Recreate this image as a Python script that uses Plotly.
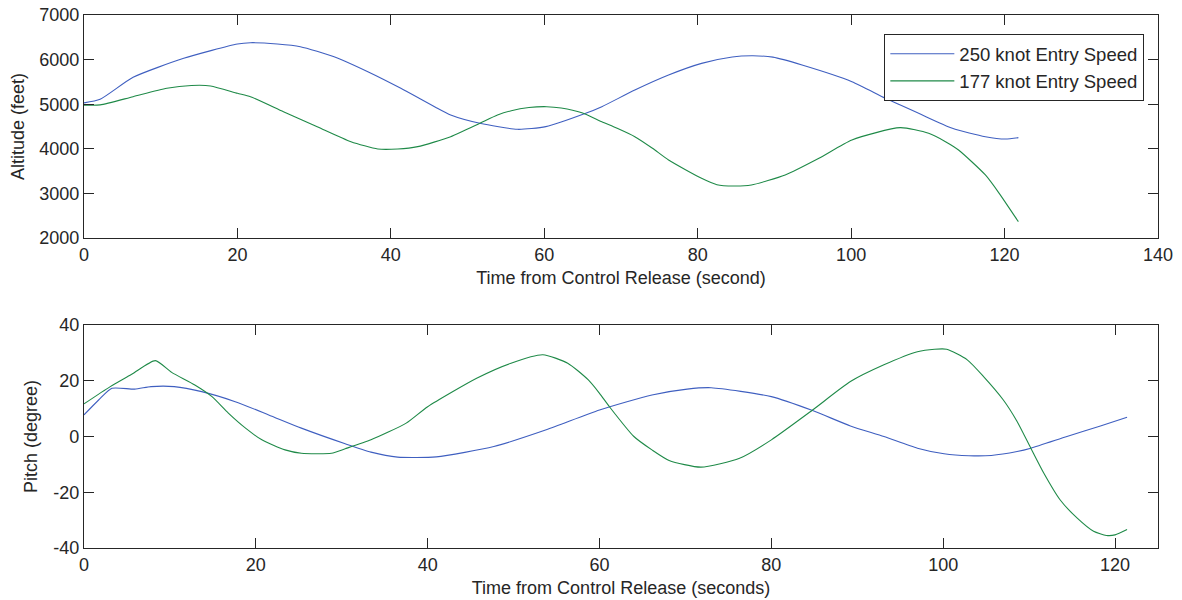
import plotly.graph_objects as go

# ---- Altitude (top panel) ----
alt_t_250 = [0, 2.1, 6.4, 13, 20, 21.7, 25.2, 28.2, 32.6, 37, 41.3, 45.7, 47.8, 51.6, 56.5, 60.2,
             65.4, 67.5, 71.8, 76.2, 80.5, 84.5, 87.2, 89.8, 93.6, 100.1, 104.5, 108.8, 113.2, 117.5, 120.1, 121.8]
alt_v_250 = [5030, 5110, 5603, 6029, 6350, 6379, 6350, 6289, 6065, 5729, 5357, 4944, 4758, 4572, 4437, 4497,
             4796, 4944, 5318, 5655, 5916, 6060, 6085, 6055, 5879, 5505, 5132, 4796, 4460, 4272, 4220, 4250]

alt_t_177 = [0, 2.1, 6.4, 10.8, 14, 16.5, 20, 21.7, 26, 30.4, 34.8, 38.3, 40.9, 43.5, 47.8, 51.6, 53.9,
             55.7, 58, 60.3, 62.2, 64.9, 67.5, 69.5, 71.8, 74.1, 76.2, 80.5, 82.5, 84.7, 87, 91.4, 95.8, 100.1,
             106.4, 110.1, 112.3, 114, 117.5, 119.3, 121.8]
alt_v_177 = [4980, 4985, 5169, 5357, 5420, 5410, 5245, 5169, 4832, 4496, 4160, 3996, 3996, 4048, 4272, 4572, 4758,
             4855, 4925, 4944, 4915, 4809, 4608, 4460, 4272, 4012, 3749, 3338, 3195, 3166, 3190, 3413, 3787, 4198,
             4474, 4347, 4160, 3973, 3413, 3002, 2366]

# ---- Pitch (bottom panel) ----
pit_t_250 = [0, 1.7, 3.25, 5.9, 7.8, 10.5, 13.7, 17.6, 21.5, 25.3, 30.4, 33.4, 36.5, 41, 47.7,
             53.8, 60, 66.1, 70.2, 73, 80, 84.8, 89.2, 93.1, 97, 100.1, 103, 105.6, 108.6, 110.2,
             114.4, 118.3, 121.4]
pit_v_250 = [7.75, 13.1, 17.3, 17.0, 17.9, 17.9, 16.1, 12.5, 7.75, 3.0, -2.6, -5.6, -7.4, -7.3, -3.6,
             2.4, 9.5, 14.9, 17.0, 17.5, 14.3, 9.3, 3.8, 0, -4.2, -6.2, -6.9, -6.8, -5.4, -4.2,
             0, 3.8, 6.9]

pit_t_177 = [0, 3.06, 5.6, 8.3, 10.2, 12.9, 14.9, 16.8, 18.8, 20.7, 23.4, 25.3, 28.8, 30.4, 33.4, 37.5,
             40, 45.7, 49.7, 53.4, 56.3, 58.7, 60, 61.2, 64, 66.1, 68.1, 71.8, 76.3, 80, 84.8, 89.2,
             93.1, 97, 99, 100.4, 102.8, 104.7, 107, 108.6, 110.2, 111.7, 113.6, 115.6, 117.5, 119,
             120, 121.4]
pit_v_177 = [11.7, 17.9, 22.4, 27.2, 23.0, 18.5, 14.3, 8.4, 3.0, -1.2, -4.8, -6.0, -6.0, -4.4, -1.2, 4.8,
             10.7, 20.9, 26.3, 29.3, 26.3, 20.3, 15.5, 10.5, 0, -4.8, -8.6, -11, -7.8, -1.2, 9.5, 19.7,
             25.7, 30.4, 31.3, 31.3, 27.5, 21.5, 13.1, 5.4, -4.2, -13.1, -22.7, -29.3, -34.0, -35.5,
             -35.3, -33.4]

pitch_ticks = [-40, -20, 0, 20, 40]
pitch_tick_text = ["-40", "-20", "0", "20", "40"]

series_names = ["250 knot Entry Speed", "177 knot Entry Speed"]
blue = "#3f5fc0"
green = "#1f8a48"
txt = "#262626"
FONT = "Liberation Sans, Arial, Helvetica, sans-serif"

fig = go.Figure()
line_kw = dict(width=1.1, shape="spline", smoothing=0.6)
fig.add_trace(go.Scatter(x=alt_t_250, y=alt_v_250, mode="lines", name=series_names[0],
                         line=dict(color=blue, **line_kw), xaxis="x", yaxis="y"))
fig.add_trace(go.Scatter(x=alt_t_177, y=alt_v_177, mode="lines", name=series_names[1],
                         line=dict(color=green, **line_kw), xaxis="x", yaxis="y"))
fig.add_trace(go.Scatter(x=pit_t_250, y=pit_v_250, mode="lines", showlegend=False, name=series_names[0],
                         line=dict(color=blue, **line_kw), xaxis="x2", yaxis="y2"))
fig.add_trace(go.Scatter(x=pit_t_177, y=pit_v_177, mode="lines", showlegend=False, name=series_names[1],
                         line=dict(color=green, **line_kw), xaxis="x2", yaxis="y2"))

axis_common = dict(showgrid=False, zeroline=False, showline=True, linecolor=txt, linewidth=1.3,
                   mirror="ticks", ticks="inside", ticklen=10, tickwidth=1, tickcolor=txt,
                   automargin=False, ticklabeloverflow="allow",
                   tickfont=dict(family=FONT, size=18, color=txt))
title_font = dict(family=FONT, size=18, color=txt)

# the page body has an 8px margin, so the figure is 8px smaller and margins shifted
fig.update_layout(
    width=1174, height=592,
    margin=dict(l=76, r=24, t=7, b=52),
    paper_bgcolor="white", plot_bgcolor="white",
    font=dict(family=FONT, size=18, color=txt),
    xaxis=dict(domain=[0, 1], anchor="y", range=[0, 140], dtick=20,
               title=dict(text="Time from Control Release (second)", standoff=7, font=title_font),
               **axis_common),
    yaxis=dict(domain=[0.5816, 1], anchor="x", range=[2000, 7000], dtick=1000,
               title=dict(text="Altitude (feet)", standoff=10, font=title_font), **axis_common),
    xaxis2=dict(domain=[0, 1], anchor="y2", range=[0, 125], dtick=20,
                title=dict(text="Time from Control Release (seconds)", standoff=7, font=title_font),
                **axis_common),
    yaxis2=dict(domain=[0, 0.4184], anchor="x2", range=[-40, 40],
                tickvals=pitch_ticks, ticktext=pitch_tick_text,
                title=dict(text="Pitch (degree)", standoff=10, font=title_font), **axis_common),
    legend=dict(x=0.987, y=0.9644, xanchor="right", yanchor="top",
                bgcolor="white", bordercolor=txt, borderwidth=1.3,
                font=dict(family=FONT, size=18.5, color=txt), itemwidth=64,
                tracegroupgap=0),
    showlegend=True,
)

fig.write_html("out.html")
